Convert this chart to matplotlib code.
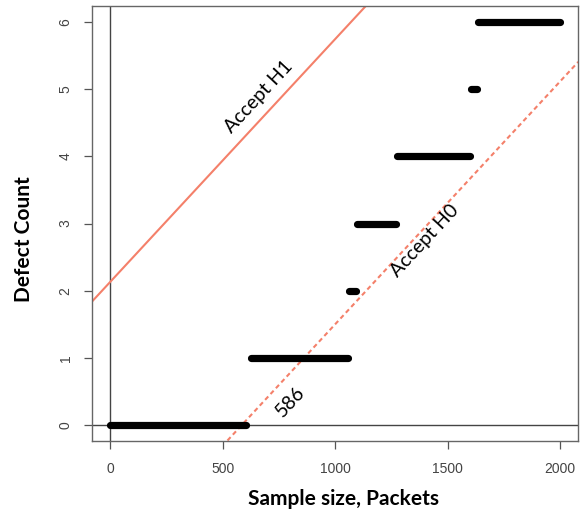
import numpy as np
import matplotlib.pyplot as plt

# observed defect counts: each count holds over a run of sample sizes
defect_counts = [0, 1, 2, 3, 4, 5, 6]
run_start = [0, 625, 1062, 1095, 1275, 1605, 1635]
run_end = [605, 1055, 1093, 1270, 1600, 1630, 2000]

# SPRT boundaries: y = slope * n + intercept
slope = 0.00362
h1_intercept = 2.13
h0_intercept = -2.12
h0_zero = 586

xticks = [0, 500, 1000, 1500, 2000]
yticks = [0, 1, 2, 3, 4, 5, 6]

fig = plt.figure(figsize=(5.87, 5.15), dpi=100)
ax = fig.add_axes([0.157, 0.1437, 0.828, 0.8443])
ax.set_xlim(-80, 2080)
ax.set_ylim(-0.24, 6.24)

ax.axvline(0, color="#444444", lw=1.0, zorder=1)
ax.axhline(0, color="#444444", lw=1.0, zorder=1)

xs = np.array([-80, 2080])
ax.plot(xs, slope * xs + h1_intercept, color="#F4806A", lw=1.5, zorder=2)
ax.plot(xs, slope * xs + h0_intercept, color="#F4806A", lw=1.5,
        ls=(0, (2.2, 1.6)), zorder=2)

for c, a, b in zip(defect_counts, run_start, run_end):
    ax.plot([a, b], [c, c], color="black", lw=5.2, solid_capstyle="round", zorder=3)

ang = 47.2
tfont = ["Lato", "DejaVu Sans"]
ax.text(660, 4.89, "Accept H1", rotation=ang, rotation_mode="anchor",
        ha="center", va="center", fontsize=14, family=tfont)
ax.text(1400, 2.75, "Accept H0", rotation=ang, rotation_mode="anchor",
        ha="center", va="center", fontsize=14, family=tfont)
ax.text(800, 0.34, str(h0_zero), rotation=ang, rotation_mode="anchor",
        ha="center", va="center", fontsize=14, family=tfont)

ax.set_xticks(xticks)
ax.set_yticks(yticks)
ax.tick_params(axis="both", direction="out", length=6, width=0.9,
               color="#555555", labelcolor="#444444", labelsize=10)
ax.tick_params(axis="x", pad=9)
ax.tick_params(axis="y", pad=8)
for lab in ax.get_xticklabels() + ax.get_yticklabels():
    lab.set_family(["Liberation Sans", "DejaVu Sans"])
for lab in ax.get_yticklabels():
    lab.set_rotation(90)
    lab.set_va("center")
for s in ax.spines.values():
    s.set_color("#666666")
    s.set_linewidth(1.0)

ax.set_xlabel("Sample size, Packets", fontsize=15, fontweight="bold",
              family=tfont)
ax.set_ylabel("Defect Count", fontsize=15, fontweight="bold",
              family=tfont)
ax.xaxis.set_label_coords(0.518, -0.11)
ax.yaxis.set_label_coords(-0.12, 0.464)

fig.savefig("out.png", dpi=100)
